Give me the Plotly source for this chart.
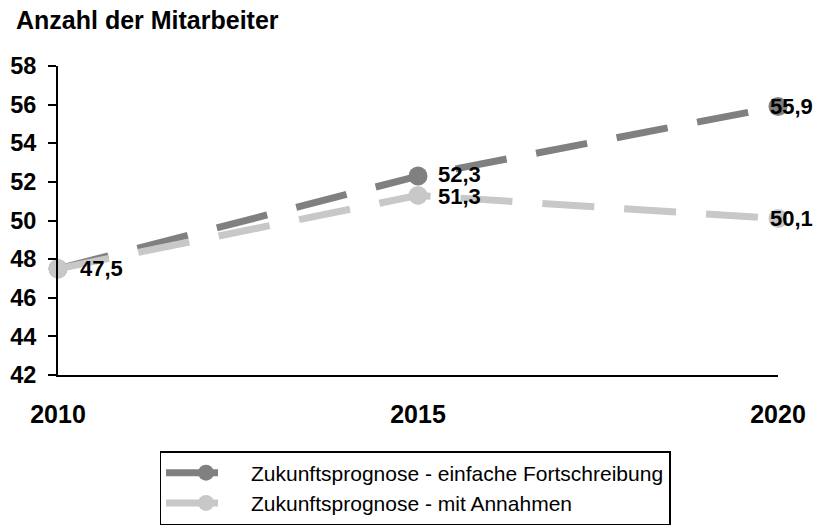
import plotly.graph_objects as go

years = [2010, 2015, 2020]
einfache = [47.5, 52.3, 55.9]
annahmen = [47.5, 51.3, 50.1]
names = ["Zukunftsprognose - einfache Fortschreibung", "Zukunftsprognose - mit Annahmen"]
y_ticks = [42, 44, 46, 48, 50, 52, 54, 56, 58]
title_text = "Anzahl der Mitarbeiter"

colors = ["#808080", "#C8C8C8"]
label_xshift = [20, 18, -10]
label_yshift = [[0, 2, 0], [0, -1, 0]]

# the page body has an 8px margin; the figure is sized to fill the rest of the window
OFF = 8
W, H = 827 - OFF, 529 - OFF
L, R, T, B = 58 - OFF, 49, 66 - OFF, 154
PW, PH = W - L - R, H - T - B
FONT = "Liberation Sans, Arial"

fig = go.Figure()
for name, vals, col in zip(names, [einfache, annahmen], colors):
    fig.add_trace(go.Scatter(
        x=years, y=vals, name=name, mode="lines+markers",
        line=dict(color=col, width=7, dash="52px,30px"),
        marker=dict(color=col, size=19, symbol="circle"),
        cliponaxis=False,
    ))

fmt = lambda v: f"{v:.1f}".replace(".", ",")
for s, vals in enumerate([einfache, annahmen]):
    for i, (x, v) in enumerate(zip(years, vals)):
        if i == 0 and s == 1:
            continue
        fig.add_annotation(
            x=x, y=v, text=fmt(v), showarrow=False, xanchor="left", yanchor="middle",
            xshift=label_xshift[i], yshift=label_yshift[s][i],
            font=dict(family=FONT, size=22, color="black", weight="bold"),
        )

fig.add_annotation(
    xref="paper", yref="paper", x=(14 - OFF - L) / PW, y=1 + (T - (20 - OFF)) / PH,
    text=f"<b>{title_text}</b>", showarrow=False, xanchor="left", yanchor="middle",
    font=dict(family=FONT, size=25, color="black"),
)

fig.update_layout(
    width=W, height=H,
    margin=dict(l=L, r=R, t=T, b=B, autoexpand=False),
    paper_bgcolor="white", plot_bgcolor="white",
    font=dict(family=FONT, color="black"),
    showlegend=True,
    legend=dict(
        x=(415 - OFF - L) / PW, y=-((451 - OFF) - (H - B)) / PH,
        xanchor="center", yanchor="top",
        bordercolor="black", borderwidth=1.5, bgcolor="white",
        font=dict(size=21, family=FONT),
        itemwidth=80, tracegroupgap=0,
    ),
    xaxis=dict(
        range=[2010, 2020], tickvals=years, ticktext=[str(y) for y in years],
        showline=True, linecolor="black", linewidth=2, ticks="", showgrid=False, zeroline=False,
        ticklabelstandoff=16,
        tickfont=dict(size=25, family=FONT, weight="bold"),
    ),
    yaxis=dict(
        range=[42, 58], tickvals=y_ticks, ticktext=[str(t) for t in y_ticks],
        showline=True, linecolor="black", linewidth=2, ticks="outside", ticklen=8, tickwidth=1.5,
        tickcolor="black", showgrid=False, zeroline=False,
        ticklabelstandoff=7,
        tickfont=dict(size=23.5, family=FONT, weight="bold"),
    ),
)

fig.write_html("out.html")
